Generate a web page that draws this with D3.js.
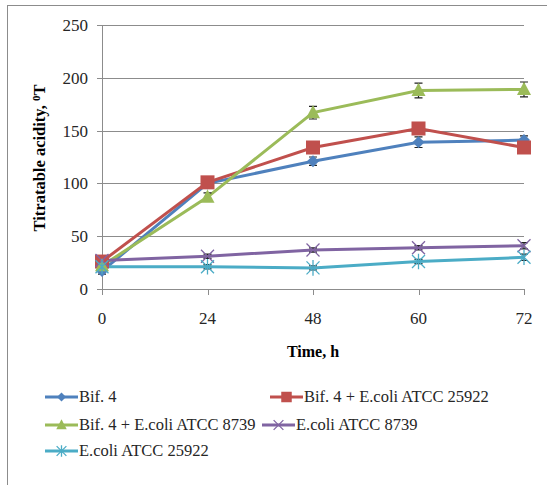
<!DOCTYPE html>
<html>
<head>
<meta charset="utf-8">
<script src="https://cdn.jsdelivr.net/npm/d3@7"></script>
<style>
  body { margin: 0; background: #fff; }
  svg text { font-family: "Liberation Serif", "Times New Roman", "DejaVu Serif", serif; }
</style>
</head>
<body>
<div id="chart"></div>
<script>
// time points (categorical axis)
const times = ["0", "24", "48", "60", "72"];
const yTicks = [0, 50, 100, 150, 200, 250];

const seriesNames = [
  "Bif. 4",
  "Bif. 4 + E.coli ATCC 25922",
  "Bif. 4 + E.coli ATCC 8739",
  "E.coli ATCC 8739",
  "E.coli ATCC 25922"
];

const bif4 = [17, 100, 121, 139, 141];
const bif4Ec25922 = [26, 101, 134, 152, 134];
const bif4Ec8739 = [22, 87, 167, 188, 189];
const ec8739 = [27, 31, 37, 39, 41];
const ec25922 = [21, 21, 20, 26, 30];

const bif4Err = [3, 3, 4, 5, 4];
const bif4Ec25922Err = [3, 3, 4, 4, 4];
const bif4Ec8739Err = [3, 4, 6, 7, 7];
const ec8739Err = [2, 2, 2, 2, 3];
const ec25922Err = [2, 2, 2, 2, 3];

const colors = ["#4F81BD", "#C0504D", "#9BBB59", "#8064A2", "#4BACC6"];
const markers = ["diamond", "square", "triangle", "cross", "star"];

const series = [bif4, bif4Ec25922, bif4Ec8739, ec8739, ec25922].map((vals, i) => ({
  name: seriesNames[i],
  values: vals,
  errs: [bif4Err, bif4Ec25922Err, bif4Ec8739Err, ec8739Err, ec25922Err][i],
  color: colors[i],
  marker: markers[i]
}));

const width = 547, height = 485;

let svg = d3.select('#chart')
  .append('svg')
  .attr('width', width)
  .attr('height', height);

// outer chart frame
svg.append('rect')
  .attr('x', 7.5).attr('y', 5.5)
  .attr('width', 560).attr('height', 500)
  .attr('fill', 'none')
  .attr('stroke', '#8c8c8c')
  .attr('stroke-width', 1);

let x = d3.scalePoint()
  .domain(times)
  .range([102, 524]);

let y = d3.scaleLinear()
  .domain([0, 250])
  .range([289, 25]);

// gridlines
svg.append('g')
  .selectAll('line')
  .data(yTicks)
  .join('line')
    .attr('x1', 97).attr('x2', 524)
    .attr('y1', d => Math.round(y(d)) + 0.5)
    .attr('y2', d => Math.round(y(d)) + 0.5)
    .attr('stroke', '#8c8c8c');

// y axis line
svg.append('line')
  .attr('x1', 102.5).attr('x2', 102.5)
  .attr('y1', y(250)).attr('y2', y(0))
  .attr('stroke', '#8c8c8c');

// x tick marks
svg.append('g')
  .selectAll('line')
  .data(times)
  .join('line')
    .attr('x1', d => Math.round(x(d)) + 0.5)
    .attr('x2', d => Math.round(x(d)) + 0.5)
    .attr('y1', y(0)).attr('y2', y(0) + 6)
    .attr('stroke', '#8c8c8c');

// y tick labels
svg.append('g')
  .selectAll('text')
  .data(yTicks)
  .join('text')
    .attr('x', 88)
    .attr('y', d => y(d) + 6)
    .attr('text-anchor', 'end')
    .style('font-size', '17px')
    .style('fill', '#262626')
    .text(d => d);

// x tick labels
svg.append('g')
  .selectAll('text')
  .data(times)
  .join('text')
    .attr('x', d => x(d))
    .attr('y', 324)
    .attr('text-anchor', 'middle')
    .style('font-size', '17px')
    .style('fill', '#262626')
    .text(d => d);

// axis titles
svg.append('text')
  .attr('x', 313)
  .attr('y', 357)
  .attr('text-anchor', 'middle')
  .style('font-size', '16px')
  .style('font-weight', 'bold')
  .text('Time, h');

let yTitle = svg.append('text')
  .attr('transform', 'translate(45,158) rotate(-90)')
  .attr('text-anchor', 'middle')
  .style('font-size', '16.5px')
  .style('font-weight', 'bold');
yTitle.append('tspan').text('Titratable acidity, ');
yTitle.append('tspan').attr('dy', -5).style('font-size', '11px').text('0');
yTitle.append('tspan').attr('dy', 5).text('T');

function drawMarker(g, type, color, s) {
  if (type === 'diamond') {
    g.append('path')
      .attr('d', `M0 ${-s} L${s} 0 L0 ${s} L${-s} 0 Z`)
      .attr('fill', color);
  } else if (type === 'square') {
    g.append('rect')
      .attr('x', -s).attr('y', -s)
      .attr('width', 2 * s).attr('height', 2 * s)
      .attr('fill', color);
  } else if (type === 'triangle') {
    g.append('path')
      .attr('d', `M0 ${-s * 1.1} L${s} ${s * 0.8} L${-s} ${s * 0.8} Z`)
      .attr('fill', color);
  } else if (type === 'cross') {
    g.append('path')
      .attr('d', `M${-s} ${-s} L${s} ${s} M${-s} ${s} L${s} ${-s}`)
      .attr('stroke', color).attr('stroke-width', 1.3).attr('fill', 'none');
  } else if (type === 'star') {
    g.append('path')
      .attr('d', `M${-s} ${-s} L${s} ${s} M${-s} ${s} L${s} ${-s} M0 ${-s * 1.2} L0 ${s * 1.2}`)
      .attr('stroke', color).attr('stroke-width', 1.3).attr('fill', 'none');
  }
}

const markerSize = { diamond: 6, square: 7, triangle: 7, cross: 6.5, star: 6.5 };

let line = d3.line()
  .x((d, i) => x(times[i]))
  .y(d => y(d));

let plot = svg.append('g');

series.forEach(s => {
  plot.append('path')
    .datum(s.values)
    .attr('d', line)
    .attr('fill', 'none')
    .attr('stroke', s.color)
    .attr('stroke-width', 3);
});

// error bars
series.forEach(s => {
  let eg = plot.append('g');
  s.values.forEach((v, i) => {
    let cx = x(times[i]);
    eg.append('path')
      .attr('d', `M${cx} ${y(v + s.errs[i])} V${y(v - s.errs[i])} M${cx - 4} ${y(v + s.errs[i])} H${cx + 4} M${cx - 4} ${y(v - s.errs[i])} H${cx + 4}`)
      .attr('stroke', '#222')
      .attr('stroke-width', 1.2)
      .attr('fill', 'none');
  });
});

// markers
series.forEach(s => {
  s.values.forEach((v, i) => {
    let g = plot.append('g')
      .attr('transform', `translate(${x(times[i])},${y(v)})`);
    drawMarker(g, s.marker, s.color, markerSize[s.marker]);
  });
});

// legend
const legendPos = [[45, 397], [270, 397], [45, 425], [262, 425], [45, 451]];
let legend = svg.append('g');
series.forEach((s, i) => {
  let [lx, ly] = legendPos[i];
  let g = legend.append('g').attr('transform', `translate(${lx},${ly})`);
  g.append('line')
    .attr('x1', 0).attr('x2', 33)
    .attr('y1', 0).attr('y2', 0)
    .attr('stroke', s.color).attr('stroke-width', 3);
  let mg = g.append('g').attr('transform', 'translate(16.5,0)');
  drawMarker(mg, s.marker, s.color, markerSize[s.marker] * 0.75);
  g.append('text')
    .attr('x', 34)
    .attr('y', 5)
    .style('font-size', '16.5px')
    .style('fill', '#262626')
    .text(s.name);
});
</script>
</body>
</html>
